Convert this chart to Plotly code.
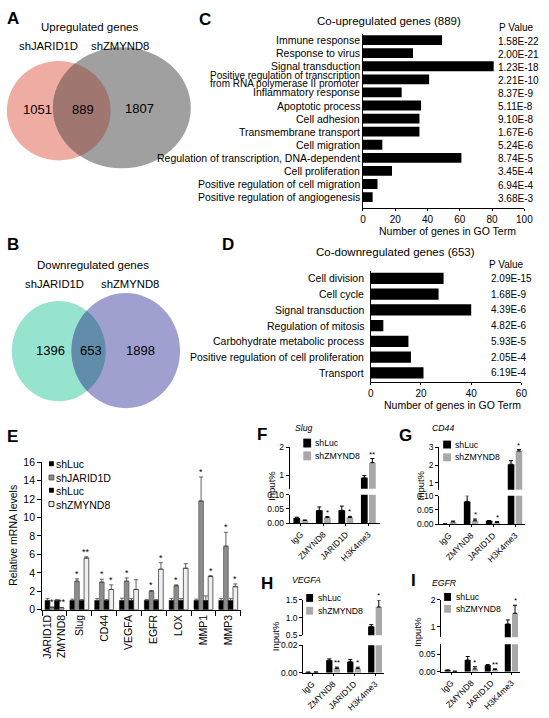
import numpy as np
import plotly.graph_objects as go

W, H = 549, 718
FONT = "Arial, Liberation Sans, sans-serif"

# ---------------- data ----------------
venn_sets = ["shJARID1D", "shZMYND8"]
venn_up_counts = [1051, 889, 1807]
venn_down_counts = [1396, 653, 1898]

go_up_terms = ["Immune response", "Response to virus", "Signal transduction",
               "Positive regulation of transcription<br>from RNA polymerase II promoter",
               "Inflammatory response", "Apoptotic process", "Cell adhesion",
               "Transmembrane transport", "Cell migration",
               "Regulation of transcription, DNA-dependent", "Cell proliferation",
               "Positive regulation of cell migration", "Positive regulation of angiogenesis"]
go_up_counts = [49, 31, 81, 41, 24, 36, 35, 35, 12, 61, 18, 9, 6]
go_up_pvals = ["1.58E-22", "2.00E-21", "1.23E-18", "2.21E-10", "8.37E-9", "5.11E-8",
               "9.10E-8", "1.67E-6", "5.24E-6", "8.74E-5", "3.45E-4", "6.94E-4", "3.68E-3"]

go_down_terms = ["Cell division", "Cell cycle", "Signal transduction", "Regulation of mitosis",
                 "Carbohydrate metabolic process", "Positive regulation of cell proliferation",
                 "Transport"]
go_down_counts = [29, 27, 40, 5, 15, 16, 21]
go_down_pvals = ["2.09E-15", "1.68E-9", "4.39E-6", "4.82E-6", "5.93E-5", "2.05E-4", "6.19E-4"]

mrna_genes = ["JARID1D<br>ZMYND8", "Slug", "CD44", "VEGFA", "EGFR", "LOX", "MMP1", "MMP3"]
mrna_series = ["shLuc", "shJARID1D", "shLuc", "shZMYND8"]
mrna_shluc1 = [1.0, 1.0, 1.0, 1.0, 1.0, 1.0, 1.0, 1.0]
mrna_shluc1_err = [0.2, 0.15, 0.2, 0.25, 0.1, 0.2, 0.15, 0.2]
mrna_shjarid = [0.25, 3.1, 3.0, 3.1, 2.0, 2.6, 11.8, 6.9]
mrna_shjarid_err = [0.05, 0.25, 0.3, 0.35, 0.1, 0.1, 2.6, 1.5]
mrna_shluc2 = [1.0, 1.0, 1.0, 1.0, 1.0, 1.0, 1.0, 1.0]
mrna_shluc2_err = [0.1, 0.1, 0.1, 0.2, 0.1, 0.2, 0.5, 0.2]
mrna_shzmynd = [0.2, 5.6, 2.2, 2.2, 4.4, 4.5, 3.6, 2.5]
mrna_shzmynd_err = [0.05, 0.15, 0.5, 1.05, 0.7, 0.5, 0.1, 0.3]
mrna_shjarid_sig = ["*", "*", "*", "*", "*", "*", "*", "*"]
mrna_shzmynd_sig = ["**", "**", "*", "", "*", "", "*", "*"]

chip_targets = ["IgG", "ZMYND8", "JARID1D", "H3K4me3"]
chip_series = ["shLuc", "shZMYND8"]
slug_luc = [0.018, 0.045, 0.045, 0.9]
slug_luc_err = [0.003, 0.012, 0.015, 0.08]
slug_zm = [0.01, 0.02, 0.02, 1.45]
slug_zm_err = [0.001, 0.003, 0.004, 0.15]
slug_sig = ["", "*", "*", "**"]

cd44_luc = [0.001, 0.08, 0.012, 2.05]
cd44_luc_err = [0.0005, 0.02, 0.001, 0.2]
cd44_zm = [0.008, 0.012, 0.006, 2.8]
cd44_zm_err = [0.003, 0.006, 0.003, 0.08]
cd44_sig = ["", "*", "*", "*"]

vegfa_luc = [0.0003, 0.009, 0.008, 0.75]
vegfa_luc_err = [0.0001, 0.001, 0.0015, 0.05]
vegfa_zm = [0.0004, 0.003, 0.003, 1.3]
vegfa_zm_err = [0.0001, 0.001, 0.001, 0.2]
vegfa_sig = ["", "**", "*", "*"]

egfr_luc = [0.004, 0.033, 0.018, 1.1]
egfr_luc_err = [0.001, 0.01, 0.002, 0.15]
egfr_zm = [0.001, 0.008, 0.006, 1.5]
egfr_zm_err = [0.0005, 0.006, 0.002, 0.3]
egfr_sig = ["", "*", "**", "*"]

# ---------------- helpers ----------------
def X(p):
    return p / W


def Y(p):
    return 1 - p / H


annotations = []
shapes = []


def txt(text, x, y, size=10.5, xanchor="center", yanchor="middle", bold=False,
        italic=False, angle=0):
    if bold:
        text = f"<b>{text}</b>"
    if italic:
        text = f"<i>{text}</i>"
    annotations.append(dict(text=text, x=X(x), y=Y(y), xref="paper", yref="paper",
                            showarrow=False, xanchor=xanchor, yanchor=yanchor,
                            textangle=angle, borderpad=0,
                            font=dict(family=FONT, size=size, color="black")))


def ellipse(x0, y0, x1, y1, color):
    shapes.append(dict(type="circle", xref="paper", yref="paper", x0=X(x0), x1=X(x1),
                       y0=Y(y1), y1=Y(y0), fillcolor=color, line=dict(width=0),
                       layer="below"))


def lens(e1, e2, color):
    (ax0, ay0, ax1, ay1), (bx0, by0, bx1, by1) = e1, e2
    c1 = ((ax0 + ax1) / 2, (ay0 + ay1) / 2, (ax1 - ax0) / 2, (ay1 - ay0) / 2)
    c2 = ((bx0 + bx1) / 2, (by0 + by1) / 2, (bx1 - bx0) / 2, (by1 - by0) / 2)

    def inside(px, py, c):
        return ((px - c[0]) / c[2]) ** 2 + ((py - c[1]) / c[3]) ** 2 <= 1

    t1 = np.linspace(-np.pi, np.pi, 721)
    p1x, p1y = c1[0] + c1[2] * np.cos(t1), c1[1] + c1[3] * np.sin(t1)
    m1 = inside(p1x, p1y, c2)
    t2 = np.linspace(0, 2 * np.pi, 721)
    p2x, p2y = c2[0] + c2[2] * np.cos(t2), c2[1] + c2[3] * np.sin(t2)
    m2 = inside(p2x, p2y, c1)
    xs = np.concatenate([p1x[m1], p2x[m2]])
    ys = np.concatenate([p1y[m1], p2y[m2]])
    path = "M " + " L ".join(f"{X(a):.5f},{Y(b):.5f}" for a, b in zip(xs, ys)) + " Z"
    shapes.append(dict(type="path", xref="paper", yref="paper", path=path,
                       fillcolor=color, line=dict(width=0), layer="below"))


def rect(x0, y0, x1, y1, color, outline=None):
    shapes.append(dict(type="rect", xref="paper", yref="paper", x0=X(x0), x1=X(x1),
                       y0=Y(y1), y1=Y(y0), fillcolor=color,
                       line=dict(width=0.8 if outline else 0, color=outline or color)))


fig = go.Figure()
layout = dict(width=W, height=H, margin=dict(l=0, r=0, t=0, b=0),
              paper_bgcolor="white", plot_bgcolor="white", showlegend=False,
              barmode="group", hovermode=False,
              font=dict(family=FONT, size=10, color="black"))


def axis_style(size=10):
    return dict(showline=True, linecolor="black", linewidth=1, showgrid=False,
                zeroline=False, ticks="outside", ticklen=3, tickcolor="black",
                tickwidth=1, tickfont=dict(family=FONT, size=size, color="black"))


# ---------------- A: Venn up ----------------
pinkE = (4, 56, 110, 157)
grayE = (51, 42, 192, 165)
ellipse(*pinkE, "rgb(239,172,162)")
ellipse(*grayE, "rgb(160,160,160)")
lens(pinkE, grayE, "rgb(160,118,112)")
txt("A", 10, 13, size=17, bold=True)
txt("Upregulated genes", 88, 21, size=11.5)
txt(venn_sets[0], 47, 41, size=11.3)
txt(venn_sets[1], 120, 41, size=11.3)
txt(str(venn_up_counts[0]), 35, 105, size=13)
txt(str(venn_up_counts[1]), 82, 105, size=13)
txt(str(venn_up_counts[2]), 140, 104, size=13)

# ---------------- B: Venn down ----------------
tealE = (9, 300, 105, 402)
purpE = (70, 292, 181, 409)
ellipse(*tealE, "rgb(150,228,208)")
ellipse(*purpE, "rgb(160,160,208)")
lens(tealE, purpE, "rgb(98,140,172)")
txt("B", 10, 243, size=17, bold=True)
txt("Downregulated genes", 92, 263, size=11.5)
txt(venn_sets[0], 53, 283, size=11.3)
txt(venn_sets[1], 130, 283, size=11.3)
txt(str(venn_down_counts[0]), 49, 350, size=13)
txt(str(venn_down_counts[1]), 90, 350, size=13)
txt(str(venn_down_counts[2]), 141, 350, size=13)

# ---------------- C: GO up ----------------
nC = len(go_up_terms)
fig.add_trace(go.Bar(x=go_up_counts, y=list(range(nC)), orientation="h",
                     marker=dict(color="black", line=dict(width=0)),
                     width=0.75, offset=-0.375, xaxis="x", yaxis="y"))
layout["xaxis"] = dict(axis_style(10), domain=[X(368), X(533)], range=[0, 100],
                       tickvals=[0, 20, 40, 60, 80, 100], ticklen=2, anchor="y")
layout["yaxis"] = dict(axis_style(10), domain=[Y(205), Y(28)], range=[nC - 0.2, -0.5],
                       showticklabels=False, ticks="", anchor="x")
for i, (term, p) in enumerate(zip(go_up_terms, go_up_pvals)):
    lines = term.split("<br>")
    shifts = [0] if len(lines) == 1 else [3.7, -3.7]
    fs = 10.5 if len(lines) == 1 else 10
    for ln, sh in zip(lines, shifts):
        annotations.append(dict(text=ln, x=X(366), y=i, xref="paper", yref="y",
                                xanchor="right", yanchor="middle", yshift=sh,
                                showarrow=False, borderpad=0,
                                font=dict(family=FONT, size=fs)))
    annotations.append(dict(text=p, x=X(505), y=i, xref="paper", yref="y",
                            xanchor="left", yanchor="middle", showarrow=False,
                            borderpad=0, yshift=-1, font=dict(family=FONT, size=10)))
txt("C", 207, 14, size=17, bold=True)
txt("Co-upregulated genes (889)", 395, 15, size=11.5)
txt("P Value", 525, 22, size=10)
txt("Number of genes in GO Term", 454, 229, size=10.5)

# ---------------- D: GO down ----------------
nD = len(go_down_terms)
fig.add_trace(go.Bar(x=go_down_counts, y=list(range(nD)), orientation="h",
                     marker=dict(color="black", line=dict(width=0)),
                     width=0.72, offset=-0.36, xaxis="x2", yaxis="y2"))
layout["xaxis2"] = dict(axis_style(10), domain=[X(376), X(530)], range=[0, 60],
                        tickvals=[0, 20, 40, 60], ticklen=2, anchor="y2")
layout["yaxis2"] = dict(axis_style(10), domain=[Y(382), Y(269)], range=[nD - 0.45, -0.5],
                        showticklabels=False, ticks="", anchor="x2")
for i, (term, p) in enumerate(zip(go_down_terms, go_down_pvals)):
    annotations.append(dict(text=term, x=X(370), y=i, xref="paper", yref="y2",
                            xanchor="right", yanchor="middle", showarrow=False,
                            borderpad=0, font=dict(family=FONT, size=10.5)))
    annotations.append(dict(text=p, x=X(498), y=i, xref="paper", yref="y2",
                            xanchor="left", yanchor="middle", showarrow=False,
                            borderpad=0, font=dict(family=FONT, size=10)))
txt("D", 230, 243, size=17, bold=True)
txt("Co-downregulated genes (653)", 401, 250, size=11.5)
txt("P Value", 515, 263, size=10)
txt("Number of genes in GO Term", 460, 406, size=10.5)

# ---------------- E: qPCR ----------------
e_vals = [mrna_shluc1, mrna_shjarid, mrna_shluc2, mrna_shzmynd]
e_errs = [mrna_shluc1_err, mrna_shjarid_err, mrna_shluc2_err, mrna_shzmynd_err]
e_cols = ["black", "rgb(140,140,140)", "black", "rgb(240,240,240)"]
e_lines = ["black", "rgb(70,70,70)", "black", "black"]
e_w = 0.19
e_offs = [-0.38, -0.19, 0.0, 0.19]
for k in range(4):
    fig.add_trace(go.Bar(x=mrna_genes, y=e_vals[k], name=mrna_series[k],
                         marker=dict(color=e_cols[k], line=dict(width=0.6, color=e_lines[k])),
                         width=e_w, offset=e_offs[k],
                         error_y=dict(type="data", array=e_errs[k], symmetric=False,
                                      arrayminus=[0] * len(e_errs[k]), color="rgb(60,60,60)",
                                      thickness=0.8, width=2),
                         xaxis="x3", yaxis="y3"))
layout["xaxis3"] = dict(axis_style(10.5), domain=[X(40), X(243)], range=[-0.5, 7.5],
                        type="category", tickson="boundaries", ticklen=5, tickangle=-90,
                        anchor="y3")
layout["yaxis3"] = dict(axis_style(10.5), domain=[Y(614), Y(464)], range=[0, 16],
                        tickvals=list(range(0, 17, 2)), ticklen=4, anchor="x3")
for sigs, vals, errs, kk in [(mrna_shjarid_sig, mrna_shjarid, mrna_shjarid_err, 1),
                             (mrna_shzmynd_sig, mrna_shzmynd, mrna_shzmynd_err, 3)]:
    for i, s in enumerate(sigs):
        if s:
            annotations.append(dict(text=s, x=i + e_offs[kk] + e_w / 2, y=vals[i] + errs[i],
                                    xref="x3", yref="y3", xanchor="center", yanchor="bottom",
                                    showarrow=False, borderpad=0, yshift=-1,
                                    font=dict(family=FONT, size=9)))
txt("E", 10, 438, size=17, bold=True)
txt("Relative mRNA levels", 10, 538, size=10.5, angle=-90)
leg_y = [466, 480, 493, 507]
for k in range(4):
    rect(47, leg_y[k] - 3, 52, leg_y[k] + 2, e_cols[k],
         outline="black" if k == 3 else (e_lines[k] if k == 1 else None))
    txt(mrna_series[k], 53.5, leg_y[k], size=10.5, xanchor="left")


# ---------------- F-I: ChIP ----------------
def chip_panel(xa, ylo, yhi, xdom, lo_dom, hi_dom, lo_range, lo_ticks, lo_text,
               hi_range, hi_ticks, hi_text, xrange, luc, luc_err, zm, zm_err, sig):
    cols = ["black", "rgb(168,168,168)"]
    offs = [-0.33, 0.03]
    w = 0.3
    for ya in (ylo, yhi):
        for k, (v, e) in enumerate([(luc, luc_err), (zm, zm_err)]):
            fig.add_trace(go.Bar(x=chip_targets, y=v, name=chip_series[k],
                                 marker=dict(color=cols[k], line=dict(width=0)),
                                 width=w, offset=offs[k],
                                 error_y=dict(type="data", array=e, symmetric=False,
                                              arrayminus=[0] * len(e), color="black",
                                              thickness=1, width=2),
                                 xaxis=xa, yaxis=ya))
    xkey = "xaxis" + xa[1:]
    layout[xkey] = dict(axis_style(8.5), domain=[X(xdom[0]), X(xdom[1])], range=xrange,
                        type="category", tickangle=-45, ticklen=2, anchor=ylo)
    layout["yaxis" + ylo[1:]] = dict(axis_style(8.5), domain=[Y(lo_dom[0]), Y(lo_dom[1])],
                                     range=lo_range, tickvals=lo_ticks, ticktext=lo_text,
                                     anchor=xa)
    layout["yaxis" + yhi[1:]] = dict(axis_style(8.5), domain=[Y(hi_dom[0]), Y(hi_dom[1])],
                                     range=hi_range, tickvals=hi_ticks, ticktext=hi_text,
                                     anchor=xa)
    for i, s in enumerate(sig):
        if not s:
            continue
        top = zm[i] + zm_err[i]
        ya = ylo if top <= lo_range[1] else yhi
        annotations.append(dict(text=s, x=i + offs[1] + w / 2, y=top, xref=xa, yref=ya,
                                xanchor="center", yanchor="bottom", showarrow=False,
                                borderpad=0, yshift=-1, font=dict(family=FONT, size=8)))


def chip_legend(x0, x1, ys, xt):
    cols = ["black", "rgb(168,168,168)"]
    for k in range(2):
        rect(x0, ys[k][0], x1, ys[k][1], cols[k])
        txt(chip_series[k], xt, (ys[k][0] + ys[k][1]) / 2, size=8.7, xanchor="left")


# F
chip_panel("x4", "y4", "y5", (293, 385), (526, 497), (491, 449), [0, 0.10],
           [0, 0.05, 0.10], ["0.00", "0.05", "0.10"], [0.5, 2.0], [1, 2], ["1", "2"],
           [-0.5, 3.5], slug_luc, slug_luc_err, slug_zm, slug_zm_err, slug_sig)
txt("F", 265, 436, size=17, bold=True)
txt("Slug", 298, 429, size=8.7, xanchor="left", italic=True)
txt("Input%", 275, 488, size=9.5, angle=-90)
chip_legend(307, 315, [(440, 449), (453, 462)], 318)

# G
chip_panel("x5", "y6", "y7", (446, 534), (527, 498), (492, 449), [0, 0.10],
           [0, 0.05, 0.10], ["0.00", "0.05", "0.10"], [0.6, 3.0], [1, 2, 3], ["1", "2", "3"],
           [-0.45, 3.47], cd44_luc, cd44_luc_err, cd44_zm, cd44_zm_err, cd44_sig)
txt("G", 412, 437, size=17, bold=True)
txt("CD44", 438, 429, size=8.7, xanchor="left", italic=True)
txt("Input%", 427, 488, size=9.5, angle=-90)
chip_legend(450, 458, [(442, 450), (455, 463)], 461)

# H
chip_panel("x6", "y8", "y9", (307, 390), (678, 650), (640, 604), [0, 0.02],
           [0, 0.02], ["0.00", "0.02"], [0.5, 1.5], [0.5, 1.0, 1.5], ["0.5", "1.0", "1.5"],
           [-0.42, 3.45], vegfa_luc, vegfa_luc_err, vegfa_zm, vegfa_zm_err, vegfa_sig)
txt("H", 270, 587, size=17, bold=True)
txt("VEGFA", 294, 584, size=8.7, xanchor="left", italic=True)
txt("Input%", 278, 641, size=9.5, angle=-90)
chip_legend(310, 317, [(598, 606), (611, 619)], 321)

# I
chip_panel("x7", "y10", "y11", (448, 529), (677, 649), (642, 604), [0, 0.078],
           [0, 0.05], ["0.00", "0.05"], [0.6, 2.0], [1, 2], ["1", "2"],
           [-0.5, 3.45], egfr_luc, egfr_luc_err, egfr_zm, egfr_zm_err, egfr_sig)
txt("I", 420, 584, size=17, bold=True)
txt("EGFR", 438, 587, size=8.7, xanchor="left", italic=True)
txt("Input%", 424, 637, size=9.5, angle=-90)
chip_legend(451, 458, [(597, 605), (609, 617)], 462)

layout["annotations"] = annotations
layout["shapes"] = shapes
fig.update_layout(**layout)
fig.write_html("out.html", config={"displayModeBar": False, "staticPlot": True},
               post_script="document.body.style.margin='0px';"
                           "document.body.style.padding='0px';"
                           "document.body.style.overflow='hidden';")
